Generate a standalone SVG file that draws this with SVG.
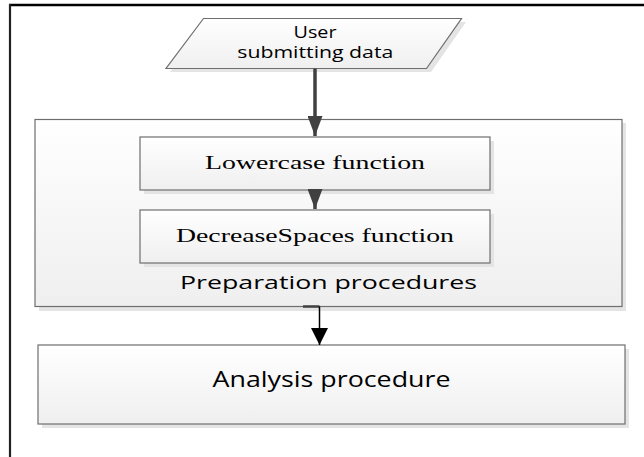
<svg xmlns="http://www.w3.org/2000/svg" width="644" height="457" viewBox="0 0 644 457">
  <style>
    .shadow { fill: #e4e4e4; }
    .box { fill: url(#boxFill); stroke: #6e6e6e; stroke-width: 1.2; }
    .sans { font-family: "Open Sans", "Liberation Sans", sans-serif; fill: #000; text-anchor: middle; }
    .serif { font-family: "Liberation Serif", "Times New Roman", serif; fill: #000; text-anchor: middle; }
    .thick { stroke: #404040; stroke-width: 3.5; fill: none; }
    .thin { stroke: #000; stroke-width: 1.5; fill: none; }
  </style>
  <defs>
    <linearGradient id="boxFill" x1="0" y1="0" x2="0" y2="1">
      <stop offset="0" stop-color="#ffffff"/>
      <stop offset="1" stop-color="#efefef"/>
    </linearGradient>
    <marker id="headDark" viewBox="0 0 20 15" refX="20" refY="7.5" markerUnits="userSpaceOnUse" markerWidth="20" markerHeight="15" orient="auto">
      <path d="M0,0 L20,7.5 L0,15 Z" fill="#404040"/>
    </marker>
    <marker id="headBlack" viewBox="0 0 17 17" refX="17" refY="8.5" markerUnits="userSpaceOnUse" markerWidth="17" markerHeight="17" orient="auto">
      <path d="M0,0 L17,8.5 L0,17 Z" fill="#000"/>
    </marker>
  </defs>

  <rect width="644" height="457" fill="#fff"/>

  <!-- page frame: top and left rules -->
  <g id="frame">
    <line x1="9" y1="5" x2="644" y2="5" stroke="#000" stroke-width="2.5"/>
    <line x1="10" y1="4" x2="10" y2="457" stroke="#222" stroke-width="2.2"/>
  </g>

  <!-- preparation container -->
  <g id="preparation">
    <rect class="shadow" x="39" y="123" width="587" height="188"/>
    <rect class="box" x="35" y="119.5" width="587" height="187"/>
    <text class="sans" x="328.5" y="288.5" font-size="17.5" textLength="297" lengthAdjust="spacingAndGlyphs">Preparation procedures</text>
  </g>

  <!-- input parallelogram -->
  <g id="user-input">
    <polygon class="shadow" points="207,22 466,22 431,72 170,72"/>
    <polygon class="box" points="203.5,18.5 461.5,18.5 426.5,68.5 166,68.5"/>
    <text class="sans" x="315" y="37.7" font-size="15.5" textLength="43" lengthAdjust="spacingAndGlyphs">User</text>
    <text class="sans" x="315.3" y="58.3" font-size="15.5" textLength="156" lengthAdjust="spacingAndGlyphs">submitting data</text>
  </g>

  <g id="lowercase">
    <rect class="shadow" x="144" y="141" width="350" height="53"/>
    <rect class="box" x="140" y="137" width="350" height="53"/>
    <text class="serif" x="315" y="169" font-size="18.5" textLength="220" lengthAdjust="spacingAndGlyphs">Lowercase function</text>
  </g>

  <g id="decrease-spaces">
    <rect class="shadow" x="144" y="214" width="350" height="53"/>
    <rect class="box" x="140" y="210" width="350" height="53"/>
    <text class="serif" x="315" y="241.7" font-size="18.5" textLength="278" lengthAdjust="spacingAndGlyphs">DecreaseSpaces function</text>
  </g>

  <g id="analysis">
    <rect class="shadow" x="42" y="349" width="587" height="79"/>
    <rect class="box" x="38" y="345" width="587" height="79"/>
    <text class="sans" x="331.5" y="387.3" font-size="21" textLength="238" lengthAdjust="spacingAndGlyphs">Analysis procedure</text>
  </g>

  <!-- connectors -->
  <g id="connectors">
    <line class="thick" x1="315" y1="68.5" x2="315" y2="136" marker-end="url(#headDark)"/>
    <line class="thick" x1="315" y1="190" x2="315" y2="209" marker-end="url(#headDark)"/>
    <line x1="303" y1="306.5" x2="319.5" y2="306.5" stroke="#404040" stroke-width="2.5"/>
    <line class="thin" x1="319.5" y1="306.5" x2="319.5" y2="345" marker-end="url(#headBlack)"/>
  </g>
</svg>
